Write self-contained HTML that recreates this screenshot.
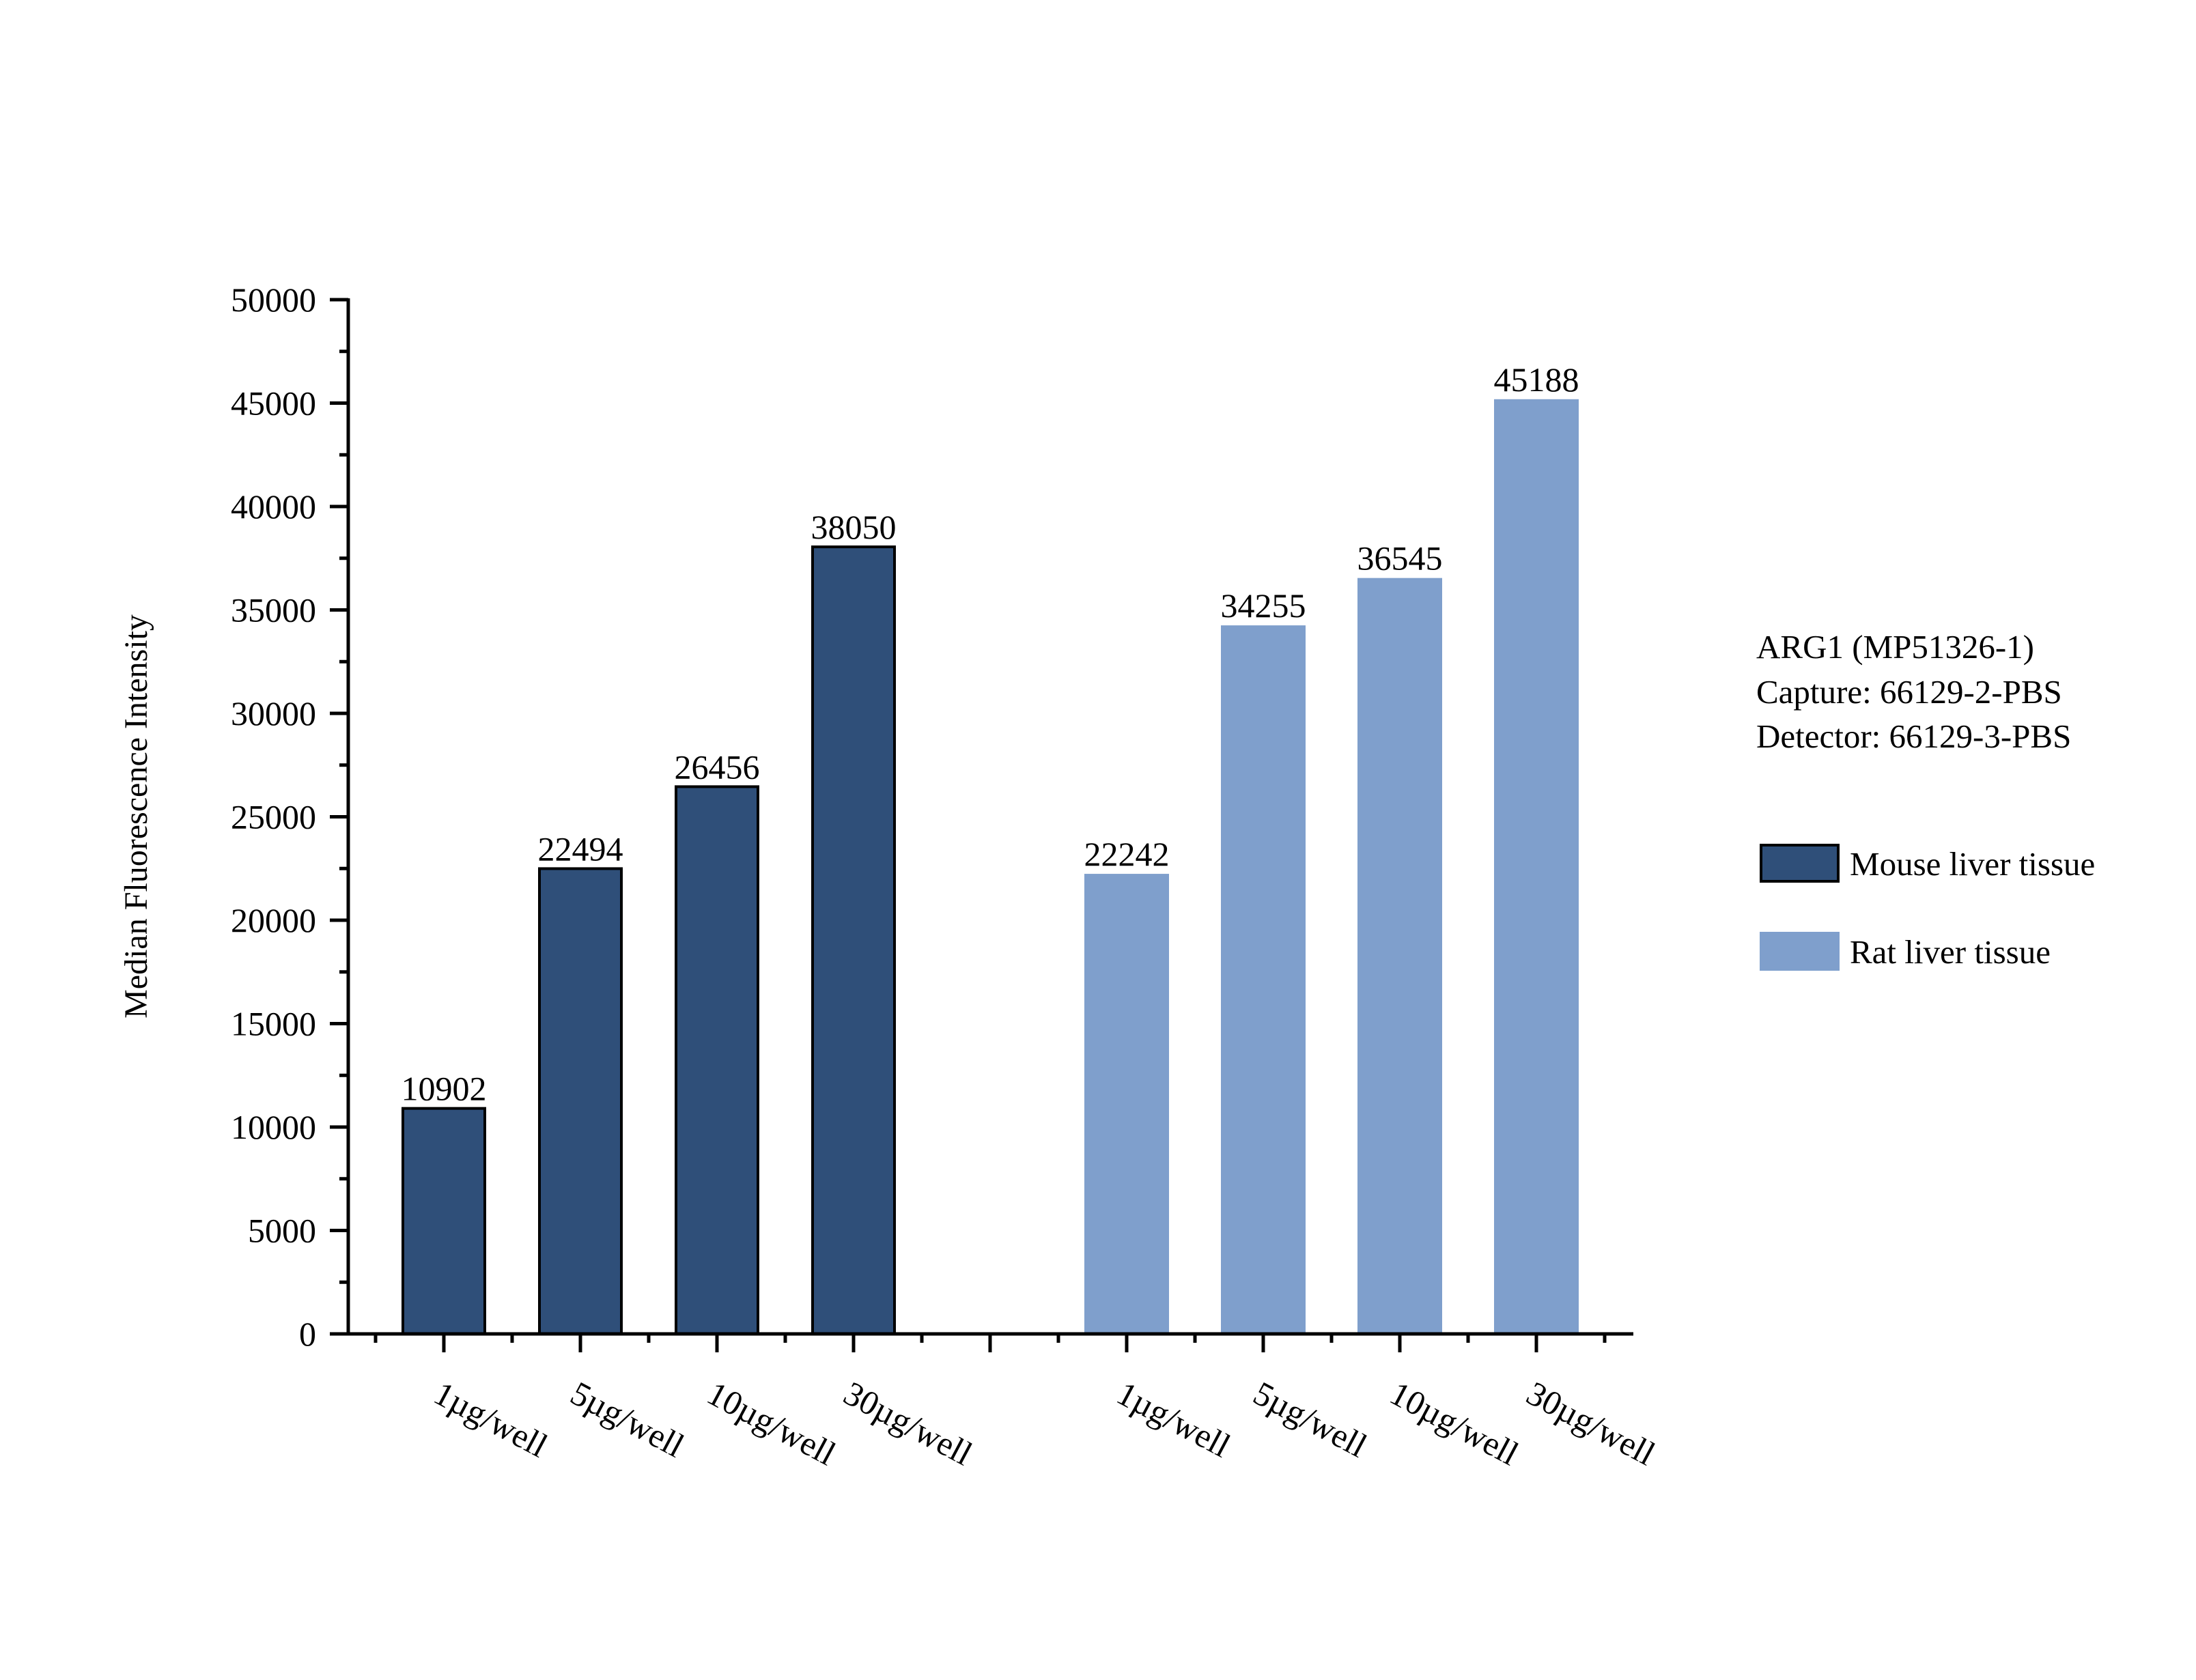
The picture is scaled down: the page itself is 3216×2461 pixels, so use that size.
<!DOCTYPE html>
<html><head><meta charset="utf-8"><style>
html,body{margin:0;padding:0;background:#fff}
svg{display:block;font-family:"Liberation Serif",serif}
</style></head><body>
<svg id="chart" width="3216" height="2461" viewBox="0 0 3216 2461" xmlns="http://www.w3.org/2000/svg">
<g id="plot"></g>
<text transform="translate(215,1196) rotate(-90)" text-anchor="middle" font-size="48">Median Fluorescence Intensity</text>
<g font-size="49">
<text x="2572" y="964">ARG1 (MP51326-1)</text>
<text x="2572" y="1030">Capture: 66129-2-PBS</text>
<text x="2572" y="1095">Detector: 66129-3-PBS</text>
</g>
<g font-size="49">
<rect x="2579" y="1238" width="113" height="53" fill="#2f4f79" stroke="#000" stroke-width="4"/>
<text x="2709" y="1282">Mouse liver tissue</text>
<rect x="2577" y="1365" width="117" height="57" fill="#7f9fcc"/>
<text x="2709" y="1411">Rat liver tissue</text>
</g>
</svg>
<script>
const categories = ["1µg/well","5µg/well","10µg/well","30µg/well"];
const mouseValues = [10902, 22494, 26456, 38050];
const ratValues = [22242, 34255, 36545, 45188];
const yTicks = [0,5000,10000,15000,20000,25000,30000,35000,40000,45000,50000];

const NS="http://www.w3.org/2000/svg";
const y0=1954, y1=439, yMax=50000;
function yScale(v){return y0-(v/yMax)*(y0-y1);}
function xSlot(i){return 650+200*i;}
const g=document.getElementById('plot');
function mk(tag,attrs,parent){const e=document.createElementNS(NS,tag);for(const k in attrs)e.setAttribute(k,attrs[k]);(parent||g).appendChild(e);return e;}

// y ticks
yTicks.forEach((t,i)=>{
  const y=yScale(t);
  const tk=mk('line',{x1:483,x2:510,y1:y,y2:y,stroke:'#000','stroke-width':5});
  
  
  const lb=mk('text',{x:463,y:y+17,'text-anchor':'end','font-size':50});
  
  
  lb.textContent=t;
  if(i<yTicks.length-1){
    const ym=yScale(t+2500);
    const mt=mk('line',{x1:497,x2:510,y1:ym,y2:ym,stroke:'#000','stroke-width':5});
    
    
  }
});

const mouseBarWidth=120, ratBarWidth=124;
function drawBar(v,i,cls,fill,stroke,w){
  const x=xSlot(i);
  const r=mk('rect',{x:x-w/2,y:yScale(v),width:w,height:y0-yScale(v),fill:fill});
  if(stroke){r.setAttribute('stroke','#000');r.setAttribute('stroke-width',4);}
  
  
  const t=mk('text',{x:x,y:yScale(v)-12,'text-anchor':'middle','font-size':50});
  
  
  t.textContent=v;
}
mouseValues.forEach((v,i)=>drawBar(v,i,'bar-mouse-'+(i+1),'#2f4f79',true,mouseBarWidth));
ratValues.forEach((v,i)=>drawBar(v,i+5,'bar-rat-'+(i+1),'#7f9fcc',false,ratBarWidth));

// axes
const ya=mk('line',{x1:510,x2:510,y1:y1-2,y2:y0+2,stroke:'#000','stroke-width':5});


const xa=mk('line',{x1:483,x2:2392,y1:y0,y2:y0,stroke:'#000','stroke-width':5});


for(let i=0;i<9;i++){
  const tk=mk('line',{x1:xSlot(i),x2:xSlot(i),y1:y0,y2:y0+27,stroke:'#000','stroke-width':5});
  
  
}
for(let k=0;k<10;k++){
  const x=xSlot(k)-100;
  const mt=mk('line',{x1:x,x2:x,y1:y0,y2:y0+13,stroke:'#000','stroke-width':5});
  
  
}
// x labels
[0,1,2,3].forEach(i=>{
  [i,i+5].forEach(s=>{
    const x=xSlot(s)-18, y=y0+98;
    const t=mk('text',{x:x,y:y,'font-size':50,transform:`rotate(28 ${x} ${y})`});
    
    
    t.textContent=categories[i];
  });
});
</script>
</body></html>
